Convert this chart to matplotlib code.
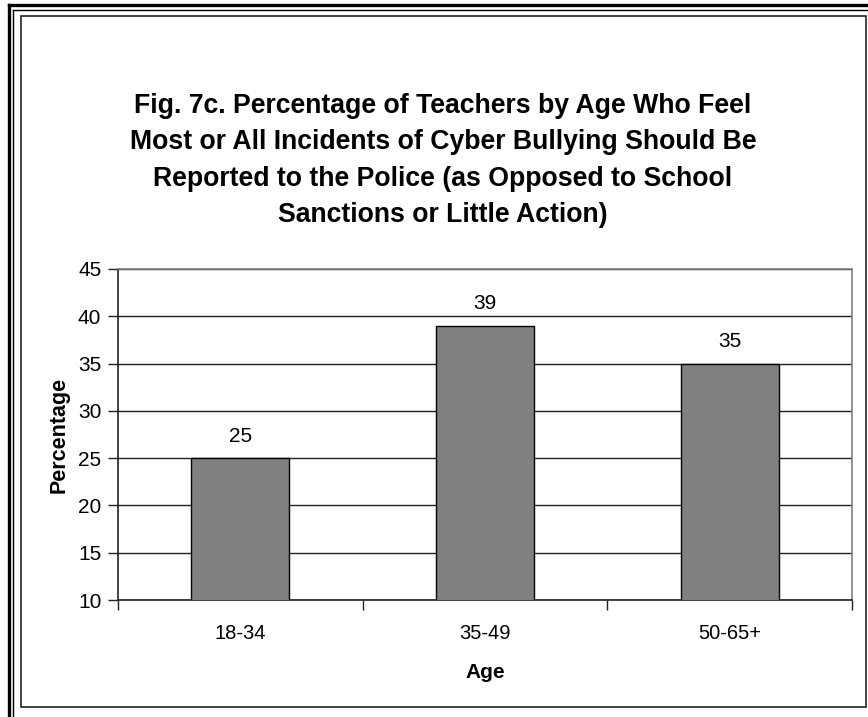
import matplotlib
matplotlib.use("Agg")
import numpy as np
from matplotlib import pyplot as plt
from matplotlib.lines import Line2D
from matplotlib.patches import Rectangle

# Data
ages = ["18-34", "35-49", "50-65+"]
percent = [25, 39, 35]
yticks = [10, 15, 20, 25, 30, 35, 40, 45]

title = ("Fig. 7c. Percentage of Teachers by Age Who Feel\n"
         "Most or All Incidents of Cyber Bullying Should Be\n"
         "Reported to the Police (as Opposed to School\n"
         "Sanctions or Little Action)")

plt.rcParams["font.family"] = ["Liberation Sans", "DejaVu Sans"]

W, H = 868, 717
fig = plt.figure(figsize=(W / 100, H / 100), dpi=100)
fig.patch.set_facecolor("white")

# pixel -> figure coords
def fx(px):
  return px / W

def fy(py):
  return 1 - py / H

# Frame lines (thick outer, thin, inner box)
fig.add_artist(Line2D([fx(9), fx(9)], [fy(5), 0], color="black", linewidth=2.4))
fig.add_artist(Line2D([fx(9), 1], [fy(5), fy(5)], color="black", linewidth=2.4))
fig.add_artist(Line2D([fx(13), fx(13)], [fy(9.5), 0], color="black", linewidth=1.0))
fig.add_artist(Line2D([fx(13), 1], [fy(9.5), fy(9.5)], color="black", linewidth=1.0))
fig.add_artist(Rectangle((fx(20.5), fy(707)), fx(866) - fx(20.5), fy(16) - fy(707),
                         fill=False, edgecolor="#222222", linewidth=1.2))

# Axes
ax = fig.add_axes([fx(118), fy(600), fx(852) - fx(118), fy(269) - fy(600)])
x = np.arange(len(ages))
ax.bar(x, percent, width=0.4, color="#808080", edgecolor="black", linewidth=1.0, zorder=3)
ax.set_xlim(-0.5, 2.5)
ax.set_ylim(10, 45)
ax.set_yticks(yticks)
ax.set_yticklabels([str(v) for v in yticks], fontsize=15)
ax.yaxis.grid(True, color="#222222", linewidth=1.0, zorder=0)
ax.set_axisbelow(True)

ax.set_xticks(x)
ax.set_xticklabels(ages, fontsize=14.5)
ax.tick_params(axis="x", length=0, pad=17)
ax.set_xticks([-0.5, 0.5, 1.5, 2.5], minor=True)
ax.tick_params(axis="x", which="minor", length=7, width=1, color="#222222")
ax.tick_params(axis="y", length=7, width=1, color="#222222", pad=5)

for side in ["top", "right"]:
  ax.spines[side].set_color("#808080")
  ax.spines[side].set_linewidth(1.2)
for side in ["left", "bottom"]:
  ax.spines[side].set_color("#222222")
  ax.spines[side].set_linewidth(1.2)

for xi, v in zip(x, percent):
  ax.text(xi, v + 2.3, str(v), ha="center", va="center", fontsize=15)

ax.set_xlabel("Age", fontsize=15, fontweight="bold", labelpad=15)
ax.set_ylabel("Percentage", fontsize=15.5, fontweight="bold", labelpad=6)

fig.text(fx(443), fy(160.5), title, ha="center", va="center", fontsize=19.2,
         fontweight="bold", linespacing=1.53)

plt.savefig("out.png", dpi=100)
